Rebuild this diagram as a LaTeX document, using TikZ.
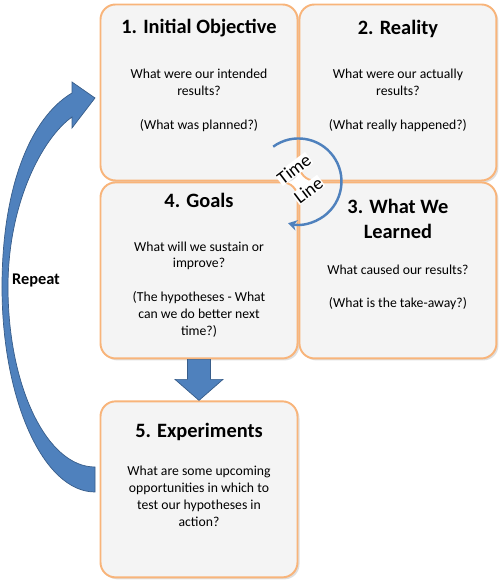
\documentclass[tikz,border=0pt]{standalone}
\usepackage{fontspec}
\setmainfont{Carlito}
\usepackage{tikz}
\usetikzlibrary{positioning, arrows.meta, shadows}
\usepackage{xcolor}
\definecolor{boxfill}{RGB}{244,244,244}
\definecolor{boxline}{RGB}{248,180,122}
\definecolor{arrowblue}{RGB}{79,129,189}
\definecolor{arrowedge}{RGB}{56,93,138}

\begin{document}
\begin{tikzpicture}[
    node distance=0cm,
    box/.style={rectangle, draw=boxline, line width=1.1pt, fill=boxfill, minimum width=3.94cm, minimum height=3.52cm, rounded corners=0.3cm, drop shadow={shadow xshift=0.04cm, shadow yshift=-0.04cm, opacity=0.25}},
    heading/.style={font=\fontsize{11.6}{14.2}\selectfont\bfseries, align=center},
    body/.style={font=\fontsize{7.8}{9.6}\selectfont, align=center},
    timelabel/.style={font=\fontsize{10.5}{12}\selectfont, rotate=37, fill=white, inner sep=0.3pt},
    blockarrow/.style={fill=arrowblue, draw=arrowedge, line width=0.4pt},
    timearrow/.style={-{Stealth[length=5pt,width=6pt]}, draw=arrowblue, line width=1.4pt}
]
    \useasboundingbox (0,0) rectangle (10,11.66);

    \node[box] (objective) at (3.98,9.81) {};
    \node[box, right=of objective] (reality) {};
    \node[box, below=of objective] (goals) {};
    \node[box, below=of reality] (learned) {};
    \node[box, below=0.82cm of goals] (experiments) {};

    \node[heading] (objhead) at ([yshift=-0.5cm]objective.north) {1. Initial Objective};
    \node[body] (objtext) at ([yshift=-1.94cm]objective.north) {What were our intended\\results?\\[9.6pt](What was planned?)};
    \node[heading] (realhead) at ([yshift=-0.5cm]reality.north) {2. Reality};
    \node[body] (realtext) at ([yshift=-1.94cm]reality.north) {What were our actually\\results?\\[9.6pt](What really happened?)};
    \node[heading] (learnhead) at ([yshift=-0.75cm]learned.north) {3. What We\\Learned};
    \node[body] (learntext) at ([yshift=-2.12cm]learned.north) {What caused our results?\\[9.6pt](What is the take-away?)};
    \node[heading] (goalhead) at ([yshift=-0.38cm]goals.north) {4. Goals};
    \node[body] (goaltext) at ([yshift=-2.16cm]goals.north) {What will we sustain or\\improve?\\[9.6pt](The hypotheses - What\\can we do better next\\time?)};
    \node[heading] (exphead) at ([yshift=-0.64cm]experiments.north) {5. Experiments};
    \node[body] (exptext) at ([yshift=-1.92cm]experiments.north) {What are some upcoming\\opportunities in which to\\test our hypotheses in\\action?};

    \draw[timearrow] ([shift={(126:0.86)}]objective.south east) arc[start angle=126, end angle=-104, radius=0.86];
    \node[timelabel] (time) at ([shift={(-0.09,0.25)}]objective.south east) {Time};
    \node[timelabel] (line) at ([shift={(0.2,-0.17)}]objective.south east) {Line};

    \draw[blockarrow] ([xshift=-0.23cm]goals.south) -- ([xshift=-0.23cm,yshift=0.42cm]experiments.north) -- ([xshift=-0.48cm,yshift=0.42cm]experiments.north) -- (experiments.north) -- ([xshift=0.48cm,yshift=0.42cm]experiments.north) -- ([xshift=0.23cm,yshift=0.42cm]experiments.north) -- ([xshift=0.23cm]goals.south) -- cycle;

    \draw[blockarrow] (1.90,1.82) .. controls (0.87,1.82) and (0.04,3.66) .. (0.04,5.92)
        .. controls (0.04,7.9) and (0.6,9.3) .. (1.44,9.80)
        -- (1.44,10.02) -- (1.90,9.70) -- (1.44,9.10) -- (1.44,9.32)
        .. controls (0.85,8.9) and (0.16,7.6) .. (0.16,5.92)
        .. controls (0.16,3.93) and (0.94,2.32) .. (1.90,2.32) -- cycle;
    \node[font=\fontsize{9.3}{11}\selectfont\bfseries] (repeat) at (0.72,6.06) {Repeat};
\end{tikzpicture}
\end{document}
